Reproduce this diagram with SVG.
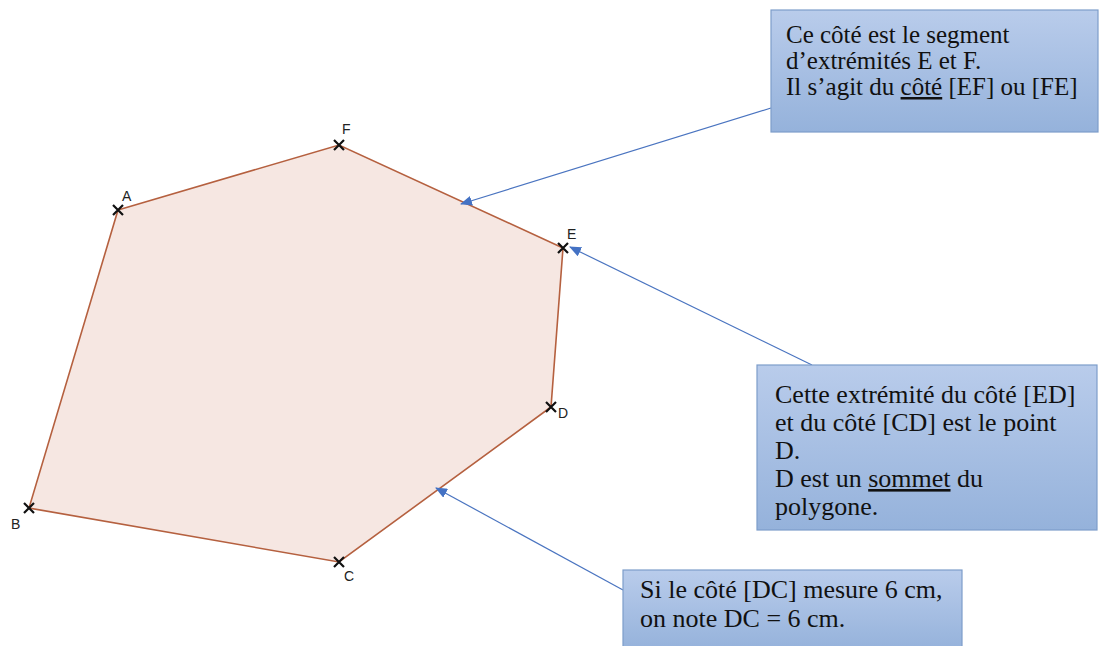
<svg xmlns="http://www.w3.org/2000/svg" width="1100" height="646" viewBox="0 0 1100 646">
<defs>
<linearGradient id="bg" x1="0" y1="0" x2="0" y2="1">
<stop offset="0" stop-color="#b9cceb"/>
<stop offset="1" stop-color="#95b2db"/>
</linearGradient>
<marker id="ah" viewBox="0 0 12 10" refX="11" refY="5" markerWidth="12" markerHeight="10" markerUnits="userSpaceOnUse" orient="auto">
<path d="M0,0 L12,5 L0,10 z" fill="#4472c4"/>
</marker>
<path id="x" d="M-5,-5 L5,5 M-5,5 L5,-5" stroke="#111" stroke-width="2.2" fill="none"/>
</defs>
<style>
.box{fill:url(#bg);stroke:#7d9dca;stroke-width:1.2}
.t{font-family:"Liberation Serif",serif;font-size:26px;fill:#111}
.s{font-size:25px}
.lbl{font-family:"Liberation Sans",sans-serif;font-size:14px;fill:#222}
.con{stroke:#4a74c0;stroke-width:1.2;fill:none}
.u{text-decoration:underline}
</style>
<rect width="1100" height="646" fill="#fff"/>
<g id="polygon">
<polygon points="118,210 339,145 563,248 551,407 339,562 29,508" fill="#f6e7e2" stroke="#b5603f" stroke-width="1.6"/>
<use href="#x" x="118" y="210"/>
<use href="#x" x="339" y="145"/>
<use href="#x" x="563" y="248"/>
<use href="#x" x="551" y="407"/>
<use href="#x" x="339" y="562"/>
<use href="#x" x="29" y="508"/>
<text class="lbl" x="122" y="201">A</text>
<text class="lbl" x="342" y="134">F</text>
<text class="lbl" x="567" y="239">E</text>
<text class="lbl" x="558" y="418">D</text>
<text class="lbl" x="344" y="581">C</text>
<text class="lbl" x="11" y="529">B</text>
</g>
<g id="connectors">
<line class="con" x1="771" y1="108" x2="461" y2="204" marker-end="url(#ah)"/>
<line class="con" x1="812" y1="365" x2="570" y2="247" marker-end="url(#ah)"/>
<line class="con" x1="623" y1="590" x2="436" y2="488" marker-end="url(#ah)"/>
</g>
<g id="box1">
<rect class="box" x="771" y="10" width="327" height="122"/>
<text class="t s" x="786" y="43">Ce côté est le segment</text>
<text class="t s" x="786" y="69">d’extrémités E et F.</text>
<text class="t s" x="786" y="95">Il s’agit du <tspan class="u">côté</tspan> [EF] ou [FE]</text>
</g>
<g id="box2">
<rect class="box" x="757" y="365" width="340" height="165"/>
<text class="t" x="775" y="403">Cette extrémité du côté [ED]</text>
<text class="t" x="775" y="431">et du côté [CD] est le point</text>
<text class="t" x="775" y="459">D.</text>
<text class="t" x="775" y="487">D est un <tspan class="u">sommet</tspan> du</text>
<text class="t" x="775" y="515">polygone.</text>
</g>
<g id="box3">
<rect class="box" x="623" y="570" width="339" height="80"/>
<text class="t" x="640" y="598">Si le côté [DC] mesure 6 cm,</text>
<text class="t" x="640" y="627">on note DC = 6 cm.</text>
</g>
</svg>
